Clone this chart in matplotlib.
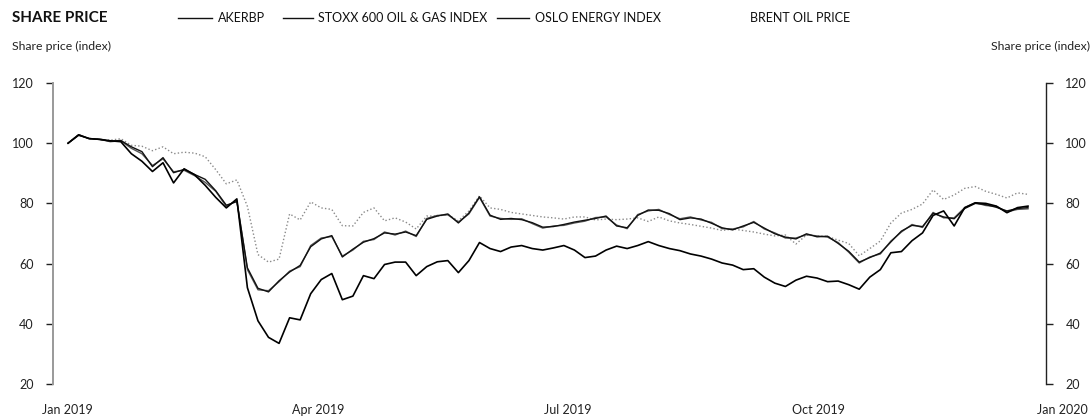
import numpy as np
import pandas as pd
import matplotlib
matplotlib.use('Agg')
import matplotlib.pyplot as plt
from matplotlib.lines import Line2D

plt.rcParams['font.family'] = ['Lato', 'DejaVu Sans']

# roughly every 4th calendar day through 2019
dates = pd.date_range('2019-01-02', '2019-12-31', periods=92)

akerbp = [100, 102.8, 101.5, 101.3, 100.8, 100.5, 96.5, 94, 90.6, 93.5,
          86.8, 91.5, 89.5, 86, 82, 78.5, 81.5, 52, 41, 35.5,
          33.5, 42, 41.3, 50, 54.7, 56.7, 48, 49.2, 56, 55,
          59.7, 60.5, 60.5, 56, 59, 60.6, 61, 57, 61, 67,
          65, 64, 65.5, 66, 65, 64.5, 65.2, 66, 64.5, 62,
          62.5, 64.5, 65.8, 65, 66, 67.3, 66, 65, 64.3, 63.2,
          62.5, 61.5, 60.2, 59.5, 58, 58.3, 55.5, 53.5, 52.4, 54.5,
          55.8, 55.2, 54, 54.2, 53, 51.5, 55.5, 58, 63.6, 64,
          67.6, 70.2, 76, 77.5, 72.5, 78.6, 80.2, 80, 79.1, 76.9,
          78.6, 79.1]

stoxx = [100, 102.8, 101.5, 101.3, 100.5, 100.8, 98.3, 96.5, 92.6, 94.8,
         90.5, 91, 89.2, 87, 84, 79, 81, 58, 51.3, 51,
         54, 57.5, 59, 66, 68.5, 69, 62.5, 64.5, 67.4, 68,
         70.5, 69.5, 70.8, 69, 75, 76, 76.2, 73.8, 76.5, 82,
         75.8, 75, 74.7, 74.9, 73.3, 71.8, 72.5, 72.7, 73.5, 74.1,
         75.3, 75.5, 72.8, 71.6, 76.3, 77.5, 78, 76.3, 74.9, 75.5,
         74.5, 73.7, 71.6, 71.5, 72.2, 74, 71.5, 70.2, 68.5, 68.5,
         69.6, 69.2, 68.8, 67, 63.8, 60.2, 62.2, 63.2, 67.5, 70.5,
         73, 72, 77, 75.2, 75.2, 78.6, 80.2, 79.3, 79, 77.2,
         78, 78.2]

oslo = [100, 102.6, 101.6, 101.2, 100.7, 100.9, 98.8, 97.2, 92.2, 95.2,
        90.2, 91.3, 89.6, 88, 84.2, 79.4, 80.6, 58.6, 51.8, 50.6,
        54.3, 57.2, 59.4, 65.6, 68.2, 69.3, 62.2, 64.8, 67.1, 68.3,
        70.2, 69.8, 70.5, 69.3, 74.7, 75.8, 76.5, 73.5, 76.8, 82.2,
        76.1, 74.7, 75, 74.6, 73.6, 72.1, 72.3, 73, 73.8, 74.4,
        75, 75.8, 72.5, 71.9, 76, 77.8, 77.7, 76.6, 74.6, 75.2,
        74.8, 73.4, 71.9, 71.2, 72.5, 73.7, 71.8, 69.9, 68.8, 68.2,
        69.9, 68.9, 69.1, 66.7, 64.1, 60.5, 62, 63.5, 67.2, 70.8,
        72.7, 72.3, 76.7, 75.5, 74.9, 78.3, 80, 79.6, 78.7, 77.5,
        78.3, 78.6]

brent = [100, 102.8, 101.5, 101.3, 101, 101.5, 99.3, 99, 97.5, 98.8,
         96.5, 97, 96.7, 95.5, 91.2, 86.5, 87.8, 79, 63, 60.5,
         61.5, 76.5, 74.5, 80.5, 78.5, 78, 72.6, 72.5, 77, 78.5,
         74.2, 75.2, 73.8, 71.5, 75.8, 75.8, 76.3, 74.2, 77.5, 82.5,
         78.5, 78, 77, 76.5, 76, 75.5, 75.2, 74.8, 75.5, 75.5,
         74.5, 74.8, 74.6, 74.8, 75.2, 74, 75.5, 74.2, 73.5, 73,
         72.4, 71.8, 71, 71.5, 71, 70.5, 69.8, 69.2, 69.5, 66.5,
         69.5, 69.2, 69, 67.8, 66.7, 62.6, 65, 67.5, 73.5, 76.8,
         78, 79.8, 84.5, 81.3, 82.8, 85, 85.6, 84, 83, 81.8,
         83.5, 83]

xtick_labels = ['Jan 2019', 'Apr 2019', 'Jul 2019', 'Oct 2019', 'Jan 2020']
yticks = [20, 40, 60, 80, 100, 120]
series_names = ['AKERBP', 'STOXX 600 OIL & GAS INDEX', 'OSLO ENERGY INDEX', 'BRENT OIL PRICE']

W, H = 1091, 419
fig = plt.figure(figsize=(W / 100, H / 100), dpi=100)
ax = fig.add_axes([53 / W, 35 / H, 993 / W, 301 / H])

ax.plot(dates, brent, color='#8a8a8a', lw=1.0, linestyle=(0, (1, 1.6)))
ax.plot(dates, stoxx, color='#555555', lw=1.0)
ax.plot(dates, oslo, color='#111111', lw=1.0)
ax.plot(dates, akerbp, color='#000000', lw=1.2)

ax.set_ylim(20, 120)
ax.set_xlim(pd.Timestamp('2019-01-02') - pd.Timedelta(days=5.7),
            pd.Timestamp('2019-12-31') + pd.Timedelta(days=6.8))

ax.spines['top'].set_visible(False)
ax.spines['bottom'].set_visible(False)
ax.spines['left'].set_color('#999999')
ax.spines['left'].set_linewidth(1.4)
ax.spines['right'].set_color('#222222')
ax.spines['right'].set_linewidth(1.0)

ax.set_yticks(yticks)
ax.tick_params(axis='y', direction='out', length=5, width=1,
               labelsize=9, colors='#222222', pad=9,
               left=True, right=True, labelleft=True, labelright=True)
ax.set_xticks([])

# quarter labels sit evenly under the plot
for px, lab in zip([67, 318, 568, 818, 1062], xtick_labels):
    fig.text(px / W, 1 - 410 / H, lab, fontsize=9, color='#222222',
             ha='center', va='center')

fig.text(12 / W, 1 - 18 / H, 'SHARE PRICE', fontsize=11, fontweight='bold',
         color='#111111', va='center', ha='left')
fig.text(12 / W, 1 - 46 / H, 'Share price (index)', fontsize=8.8, color='#222222',
         va='center', ha='left')
fig.text(1090 / W, 1 - 46 / H, 'Share price (index)', fontsize=8.8, color='#222222',
         va='center', ha='right')

# legend drawn by hand (brent has no visible sample in the original)
leg_y = 1 - 18 / H
leg_items = [(178, 212, 218), (283, 313, 318), (497, 529, 535), (None, None, 750)]
for name, (x0, x1, tx) in zip(series_names, leg_items):
    if x0 is not None:
        fig.add_artist(Line2D([x0 / W, x1 / W], [leg_y, leg_y], color='#111111',
                              lw=1.0, transform=fig.transFigure))
    fig.text(tx / W, leg_y, name, fontsize=9, color='#111111', va='center', ha='left')

fig.savefig('out.png', dpi=100)
